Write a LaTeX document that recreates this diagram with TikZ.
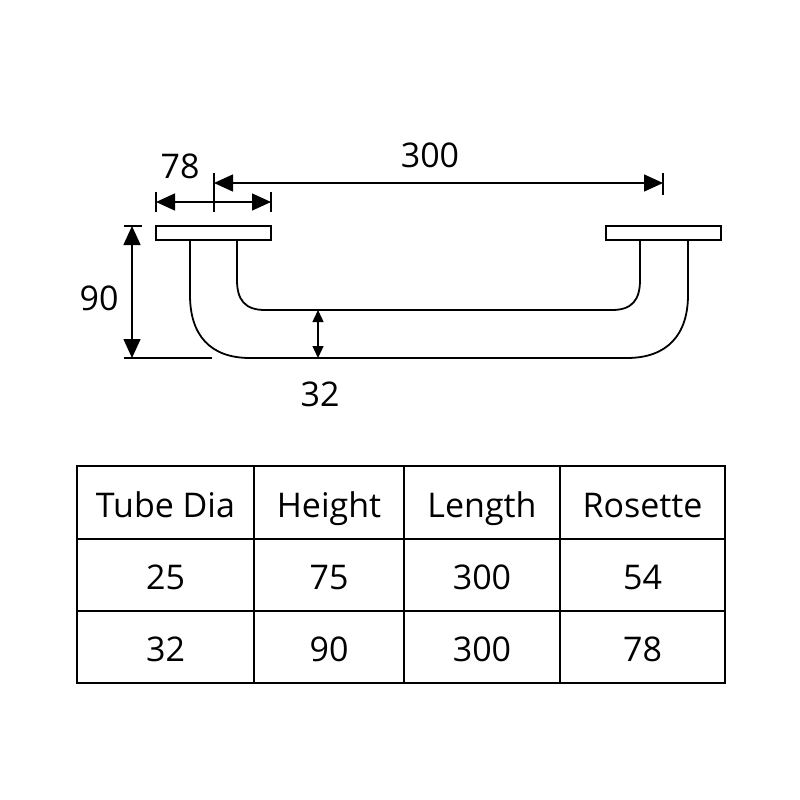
\documentclass[tikz,border=0pt]{standalone}
\usepackage{fontspec}
\setmainfont{Open Sans}
\usetikzlibrary{arrows.meta}
\begin{document}
\begin{tikzpicture}[x=1pt,y=-1pt,line width=1.8pt,
  dim/.style={line width=1.4pt,{Triangle[length=19pt,width=17pt]}-{Triangle[length=19pt,width=17pt]}},
  dimsmall/.style={line width=1.4pt,{Triangle[length=12pt,width=11pt]}-{Triangle[length=12pt,width=11pt]}},
  thin/.style={line width=1.3pt},
  lab/.style={font=\fontsize{34}{38}\selectfont,inner sep=0pt,anchor=base}]
\useasboundingbox (0,0) rectangle (800,800);
\fill[white] (0,0) rectangle (800,800);
% rosettes
\draw (156,226) rectangle (271,240);
\draw (606,226) rectangle (721,240);
% tube
\draw (190,240) -- (190,295) .. controls (190,335) and (210,358) .. (250,358) -- (627,358) .. controls (667,358) and (688,335) .. (688,295) -- (688,240);
\draw (237,240) -- (237,280) .. controls (237,300) and (245,310) .. (265,310) -- (612,310) .. controls (632,310) and (640,300) .. (640,280) -- (640,240);
% dimension 300
\coordinate (a1) at (214,183); \coordinate (a2) at (663,183);
\draw[dim] (a1) -- (a2);
\draw[thin] (214,173) -- (214,212);
\draw[thin] (663,173) -- (663,195);
% dimension 78
\coordinate (b1) at (156,202); \coordinate (b2) at (271,202);
\draw[dim] (b1) -- (b2);
\draw[thin] (156,192) -- (156,212);
\draw[thin] (271,192) -- (271,212);
% dimension 90
\coordinate (c1) at (132,226); \coordinate (c2) at (132,358);
\draw[dim] (c1) -- (c2);
\draw[thin] (124,226) -- (142,226);
\draw[thin] (124,358) -- (212,358);
% dimension 32
\coordinate (d1) at (318,310); \coordinate (d2) at (318,358);
\draw[dimsmall] (d1) -- (d2);
\node[lab] (l78) at (180,178) {78};
\node[lab] (l300) at (430,167) {300};
\node[lab] (l90) at (99,310) {90};
\node[lab] (l32) at (320,406) {32};
% table
\draw[thin] (77,466) rectangle (725,683);
\foreach \x in {254,404,560} \draw[thin] (\x,466) -- (\x,683);
\foreach \y in {539,611} \draw[thin] (77,\y) -- (725,\y);
\node[lab] (h1) at (165.5,517) {Tube Dia};
\node[lab] (h2) at (329,517) {Height};
\node[lab] (h3) at (482,517) {Length};
\node[lab] (h4) at (642.5,517) {Rosette};
\node[lab] (r11) at (165.5,589) {25};
\node[lab] (r12) at (329,589) {75};
\node[lab] (r13) at (482,589) {300};
\node[lab] (r14) at (642.5,589) {54};
\node[lab] (r21) at (165.5,661) {32};
\node[lab] (r22) at (329,661) {90};
\node[lab] (r23) at (482,661) {300};
\node[lab] (r24) at (642.5,661) {78};
\end{tikzpicture}
\end{document}
